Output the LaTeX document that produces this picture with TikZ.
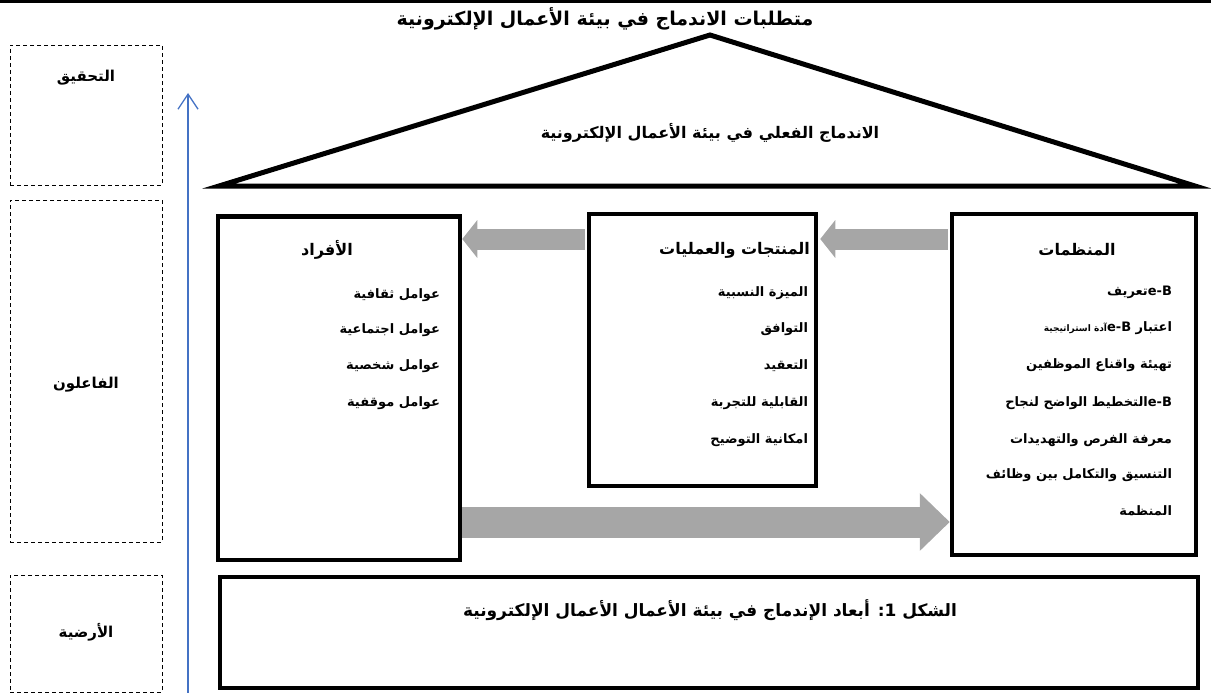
\documentclass[tikz,border=0pt]{standalone}
\usepackage{fontspec}
\newfontfamily\arabicfont[Script=Arabic]{DejaVu Sans}
\TeXXeTstate=1
\usetikzlibrary{arrows.meta}
\newcommand{\artxt}[1]{\beginR #1\endR}
\begin{document}
\begin{tikzpicture}[x=1pt,y=-1pt,
  every node/.style={inner sep=0pt, outer sep=0pt},
  head/.style={font=\arabicfont\bfseries\fontsize{16}{18}\selectfont},
  item/.style={anchor=east, font=\arabicfont\bfseries\fontsize{13}{15}\selectfont},
  thickbox/.style={draw=black, line width=4.5pt, outer sep=2.25pt},
  dashbox/.style={draw=black, dashed, dash pattern=on 4pt off 3pt, line width=0.9pt},
  ]
\definecolor{arrowgray}{RGB}{166,166,166}
\definecolor{axisblue}{RGB}{68,114,196}
\useasboundingbox (0,0) rectangle (1211,693);
% top bar
\fill[black] (0,0) rectangle (1211,3.5);
% title
\node[font=\arabicfont\bfseries\fontsize{19}{21}\selectfont] (title) at (605,19)
  {\artxt{متطلبات الاندماج في بيئة الأعمال الإلكترونية}};
% roof
\draw[line width=5pt, line join=miter] (710,35) -- (1195,186) -- (219,186) -- cycle;
\node[head] (roof) at (710,133) {\artxt{الاندماج الفعلي في بيئة الأعمال الإلكترونية}};
% left dashed boxes
\node[dashbox, minimum width=152pt, minimum height=140pt] (lv1) at (86,115) {};
\node[dashbox, minimum width=152pt, minimum height=342pt] (lv2) at (86,371) {};
\node[dashbox, minimum width=152pt, minimum height=117pt] (lv3) at (86,633.5) {};
\node[head, font=\arabicfont\bfseries\fontsize{15}{17}\selectfont] (l1) at (86,78) {\artxt{التحقيق}};
\node[head, font=\arabicfont\bfseries\fontsize{15}{17}\selectfont] (l2) at (86,385) {\artxt{الفاعلون}};
\node[head, font=\arabicfont\bfseries\fontsize{15}{17}\selectfont] (l3) at (86,632) {\artxt{الأرضية}};
% blue axis
\coordinate (axb) at (188,693);
\coordinate (axt) at (188,93);
\draw[axisblue, line width=1.3pt, -{Straight Barb[length=15pt,width=20pt,line width=1.3pt]}] (axb) -- (axt);
% boxes
\node[thickbox, minimum width=242pt, minimum height=343.5pt] (ind) at (339,388.25) {};
\node[thickbox, minimum width=227pt, minimum height=272pt] (prod) at (702.5,350) {};
\node[thickbox, minimum width=244pt, minimum height=341pt] (org) at (1074,384.5) {};
\node[thickbox, minimum width=978pt, minimum height=111pt] (base) at (709,632.5) {};
% gray arrows
\coordinate (ya) at (0,239);
\coordinate (yb) at (0,522);
\draw[arrowgray, line width=21pt, -{Triangle[length=15pt,width=37pt]}] ([xshift=-2pt]prod.west |- ya) -- (ind.east |- ya);
\draw[arrowgray, line width=21pt, -{Triangle[length=15pt,width=37pt]}] ([xshift=-2pt]org.west |- ya) -- ([xshift=2pt]prod.east |- ya);
\draw[arrowgray, line width=31pt, -{Triangle[length=30pt,width=56pt]}] (ind.east |- yb) -- (org.west |- yb);
% individuals
\node[head] (indt) at (327,250) {\artxt{الأفراد}};
\node[item] (i1) at (440,295) {\artxt{عوامل ثقافية}};
\node[item] (i2) at (440,330) {\artxt{عوامل اجتماعية}};
\node[item] (i3) at (440,366) {\artxt{عوامل شخصية}};
\node[item] (i4) at (440,403) {\artxt{عوامل موقفية}};
% products
\node[head, anchor=east] (prodt) at (810,250) {\artxt{المنتجات والعمليات}};
\node[item] (p1) at (808,293) {\artxt{الميزة النسبية}};
\node[item] (p2) at (808,329) {\artxt{التوافق}};
\node[item] (p3) at (808,366) {\artxt{التعقيد}};
\node[item] (p4) at (808,403) {\artxt{القابلية للتجربة}};
\node[item] (p5) at (808,440) {\artxt{امكانية التوضيح}};
% organisations
\node[head] (orgt) at (1077,250) {\artxt{المنظمات}};
\node[item] (o1) at (1172,292) {\artxt{\beginL e-B\endL تعريف}};
\node[item] (o2) at (1172,328) {\artxt{اعتبار\beginL e-B \endL{\fontsize{9}{11}\selectfont آدة استراتيجية}}};
\node[item] (o3) at (1172,365) {\artxt{تهيئة واقناع الموظفين}};
\node[item] (o4) at (1172,403) {\artxt{\beginL e-B\endL التخطيط الواضح لنجاح}};
\node[item] (o5) at (1172,440) {\artxt{معرفة الفرص والتهديدات}};
\node[item] (o6) at (1172,475) {\artxt{التنسيق والتكامل بين وظائف}};
\node[item] (o7) at (1172,511) {\artxt{المنظمة}};
% caption
\node[head, font=\arabicfont\bfseries\fontsize{17}{19}\selectfont] (cap) at (710,610) {\artxt{الشكل \beginL 1\endL: أبعاد الإندماج في بيئة الأعمال الأعمال الإلكترونية}};
\end{tikzpicture}
\end{document}
